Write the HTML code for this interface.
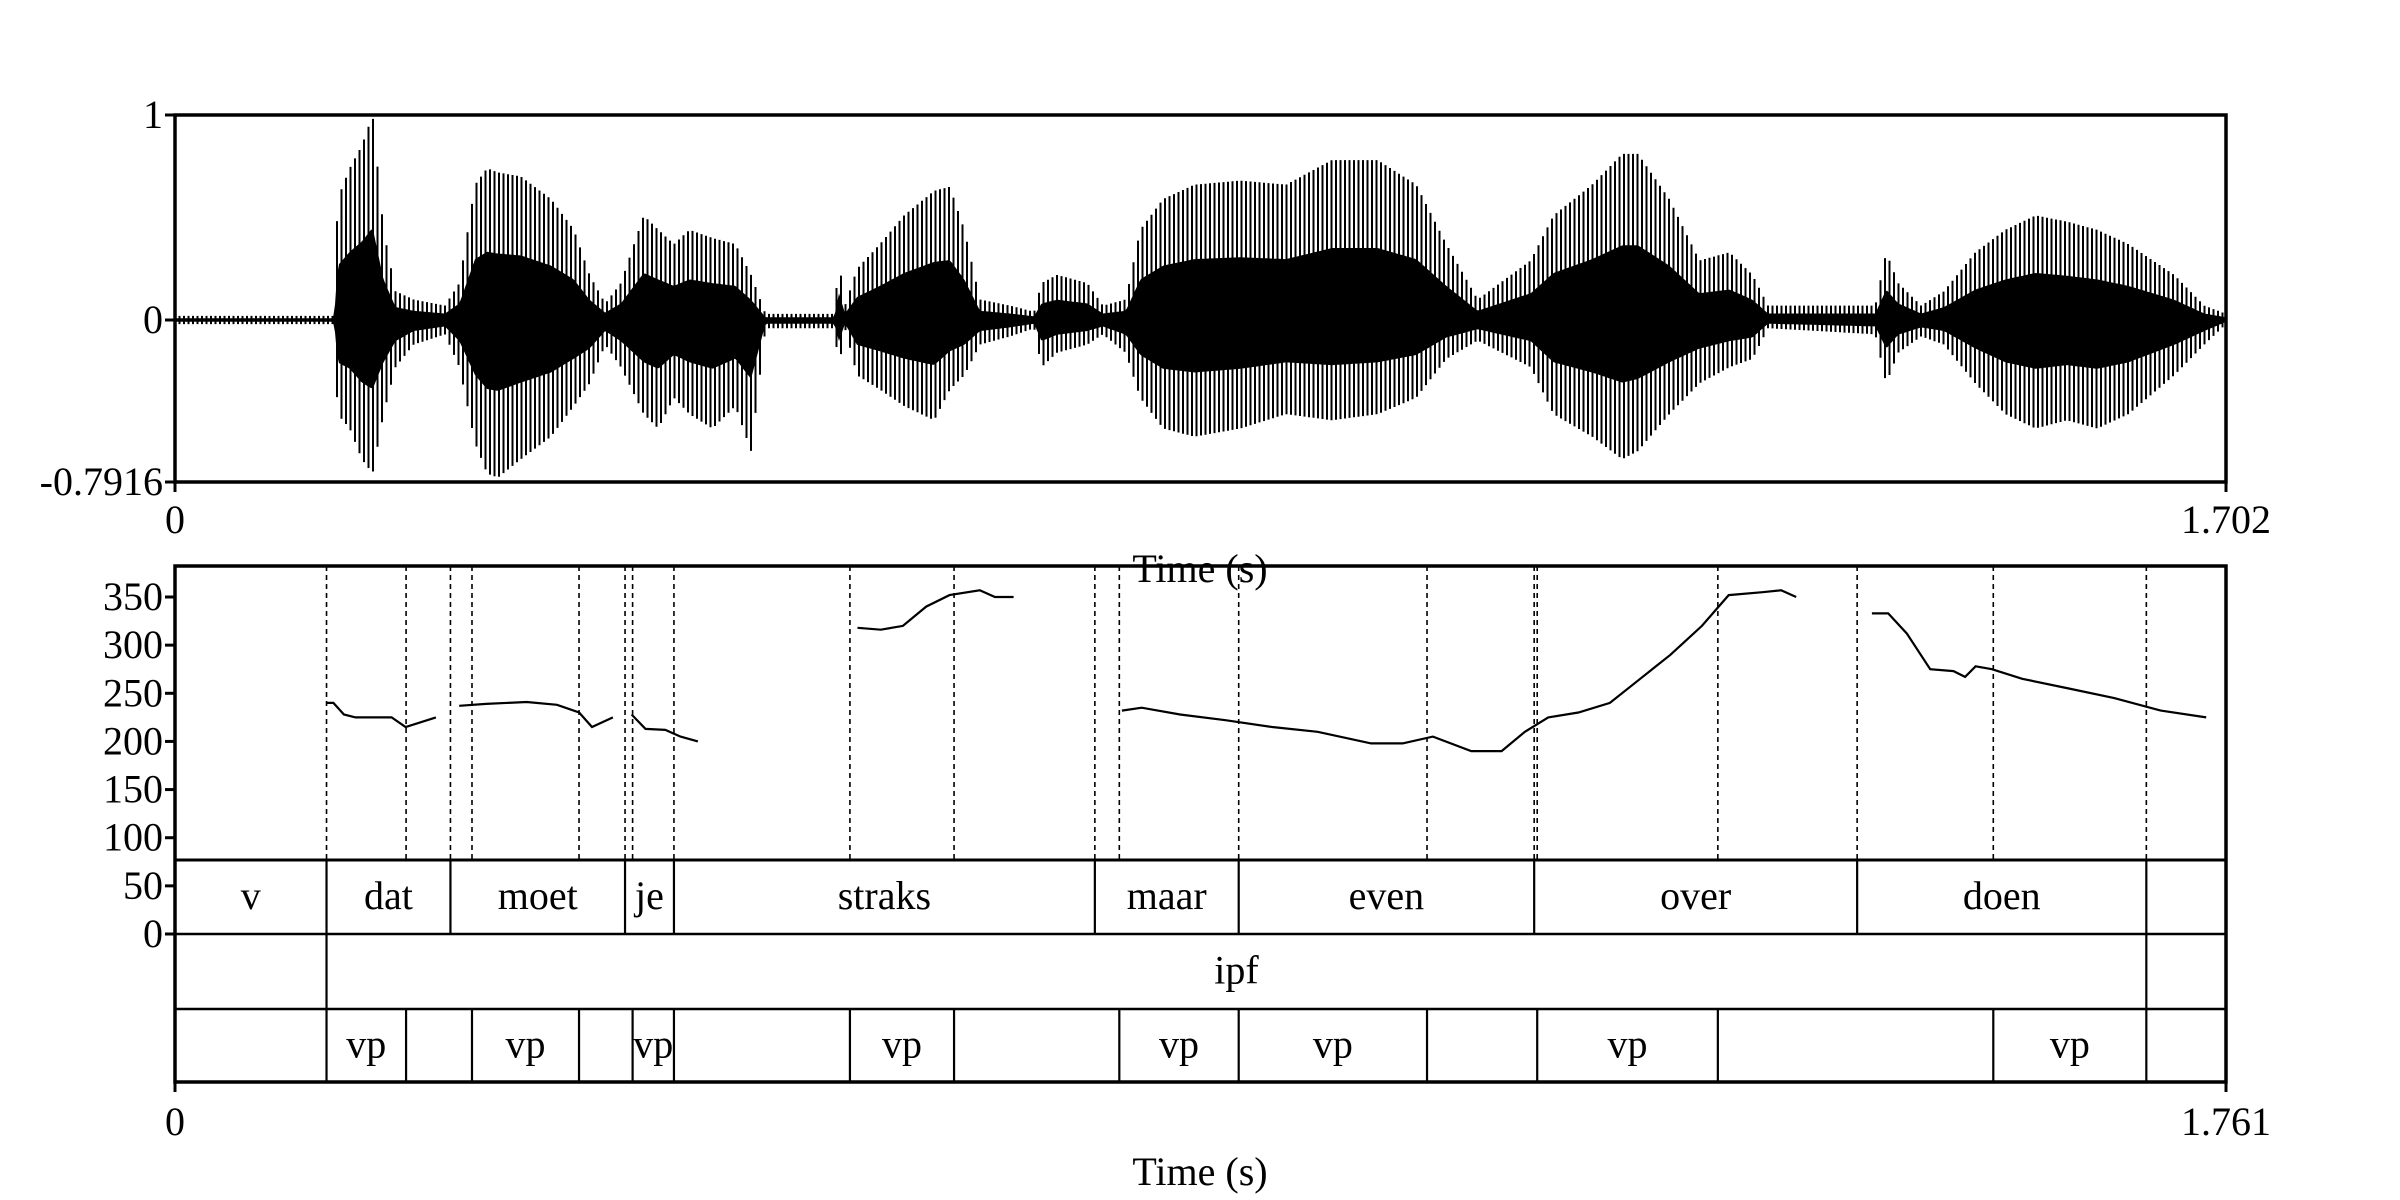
<!DOCTYPE html>
<html><head><meta charset="utf-8"><title>Waveform, pitch and TextGrid</title>
<style>
html,body{margin:0;padding:0;background:#fff;}
svg{display:block;font-family:"Liberation Serif",serif;}
text{fill:#000;}
</style></head>
<body>
<svg id="fig" width="2400" height="1200" viewBox="0 0 2400 1200" xmlns="http://www.w3.org/2000/svg">
  <g id="wave"></g>
  <g id="pitch"></g>
</svg>
<script>
// ---------- Waveform envelope data ----------
const waveTimes = [0,0.132,0.135,0.145,0.155,0.164,0.173,0.183,0.198,0.224,0.236,0.249,0.259,0.268,0.287,0.312,0.331,0.344,0.357,0.370,0.389,0.401,0.414,0.427,0.446,0.465,0.478,0.490,0.547,0.551,0.556,0.566,0.585,0.605,0.630,0.643,0.655,0.668,0.693,0.713,0.719,0.732,0.757,0.770,0.789,0.801,0.820,0.846,0.884,0.922,0.960,0.998,1.030,1.055,1.081,1.125,1.144,1.176,1.201,1.214,1.240,1.265,1.290,1.309,1.322,1.411,1.420,1.430,1.449,1.468,1.494,1.519,1.544,1.570,1.595,1.621,1.659,1.684,1.702];
const waveMax = [0.02,0.02,0.59,0.74,0.85,1.0,0.44,0.14,0.10,0.07,0.18,0.66,0.74,0.72,0.70,0.59,0.44,0.22,0.08,0.18,0.51,0.44,0.37,0.44,0.40,0.37,0.22,0.03,0.03,0.29,0.07,0.25,0.37,0.51,0.63,0.65,0.44,0.10,0.07,0.04,0.18,0.22,0.18,0.07,0.10,0.44,0.59,0.66,0.68,0.66,0.78,0.78,0.66,0.37,0.10,0.29,0.51,0.66,0.81,0.81,0.59,0.29,0.33,0.22,0.07,0.07,0.33,0.18,0.07,0.14,0.33,0.44,0.51,0.48,0.44,0.37,0.22,0.07,0.03];
const waveMin = [-0.02,-0.02,-0.46,-0.53,-0.68,-0.75,-0.46,-0.23,-0.12,-0.07,-0.23,-0.60,-0.75,-0.77,-0.68,-0.57,-0.42,-0.31,-0.12,-0.23,-0.46,-0.53,-0.38,-0.46,-0.53,-0.42,-0.64,-0.04,-0.04,-0.23,-0.04,-0.27,-0.34,-0.42,-0.49,-0.34,-0.27,-0.12,-0.08,-0.04,-0.23,-0.16,-0.12,-0.07,-0.16,-0.38,-0.53,-0.57,-0.53,-0.46,-0.49,-0.46,-0.38,-0.19,-0.10,-0.23,-0.46,-0.57,-0.68,-0.64,-0.46,-0.31,-0.23,-0.19,-0.04,-0.07,-0.31,-0.16,-0.08,-0.12,-0.31,-0.46,-0.53,-0.49,-0.53,-0.46,-0.27,-0.12,-0.02];
const waveYTicks = [1, 0, -0.7916];
const waveYTickLabels = ["1","0","-0.7916"];
const waveXLabels = ["0","1.702"];

// ---------- Pitch data ----------
const pitchSegT = [
 [0.130,0.136,0.145,0.155,0.186,0.198,0.224],
 [0.244,0.267,0.302,0.328,0.347,0.358,0.376],
 [0.392,0.404,0.421,0.434,0.449],
 [0.586,0.606,0.625,0.645,0.665,0.691,0.704,0.720],
 [0.813,0.830,0.863,0.902,0.942,0.981,1.027,1.054,1.080,1.113,1.139,1.159,1.179,1.205,1.232,1.258,1.284,1.311,1.334,1.363,1.379,1.392],
 [1.457,1.471,1.487,1.507,1.527,1.537,1.546,1.560,1.586,1.626,1.665,1.705,1.744]
];
const pitchSegHz = [
 [240,240,228,225,225,215,225],
 [237,239,241,238,230,215,225],
 [228,213,212,205,200],
 [318,316,320,340,352,357,350,350],
 [232,235,228,222,215,210,198,198,205,190,190,210,225,230,240,265,290,320,352,355,357,350],
 [333,333,312,275,273,267,278,275,265,255,245,232,225]
];
const pitchTicks = [0,50,100,150,200,250,300,350];
const pitchXLabels = ["0","1.761"];

// ---------- TextGrid data ----------
const wordBounds = [0,0.1301,0.2365,0.3864,0.4284,0.7898,0.9133,1.1670,1.4443,1.6926,1.761];
const wordLabels = ["v","dat","moet","je","straks","maar","even","over","doen",""];
const phraseBounds = [0,0.1301,1.6926,1.761];
const phraseLabels = ["","ipf",""];
const vpBounds = [0,0.1301,0.1984,0.2550,0.3469,0.3929,0.4284,0.5795,0.6689,0.8108,0.9133,1.0750,1.1696,1.3247,1.5612,1.6926,1.761];
const vpLabels = ["","vp","","vp","","vp","","vp","","vp","vp","","vp","","vp",""];
const dashedTimes = [0.1301,0.1984,0.2365,0.2550,0.3469,0.3864,0.3929,0.4284,0.5795,0.6689,0.7898,0.8108,0.9133,1.0750,1.1670,1.1696,1.3247,1.4443,1.5612,1.6926];

const NS = "http://www.w3.org/2000/svg";
function mk(tag, attrs, parent){ const e=document.createElementNS(NS,tag); for(const k in attrs) e.setAttribute(k,attrs[k]); parent.appendChild(e); return e; }

const FS = 40;
const L=175, R=2226;
const wTop=115, wZero=320, wBot=482;
const wx = t => L + t/1.702*(R-L);
const wy = a => a>=0 ? wZero - a*(wZero-wTop) : wZero + (-a)/0.7916*(wBot-wZero);
const px = t => L + t/1.761*(R-L);
const pTop=566, pZero=934;
const py = hz => pZero - hz*(337/350);
const tierY = [860,934,1009,1082];

// ---------- Waveform ----------
const wg = document.getElementById('wave');
function interp(arr, t){
  for(let i=0;i<waveTimes.length-1;i++){
    if(t>=waveTimes[i] && t<=waveTimes[i+1]){
      const f=(t-waveTimes[i])/(waveTimes[i+1]-waveTimes[i]||1);
      return arr[i]+(arr[i+1]-arr[i])*f;
    }
  }
  return arr[arr.length-1];
}
let up=[],dn=[];
for(let x=L;x<=R;x+=2){
  const t=(x-L)/(R-L)*1.702;
  up.push(x+','+wy(interp(waveMax,t)*0.45).toFixed(1));
  dn.unshift(x+','+wy(interp(waveMin,t)*0.45).toFixed(1));
}
const core = mk('polygon',{points:up.concat(dn).join(' '),fill:'#000'},wg);


let d='';
for(let x=L;x<=R;x+=4.5){
  const t=(x-L)/(R-L)*1.702;
  d+='M'+x.toFixed(1)+' '+wy(interp(waveMax,t)).toFixed(1)+'V'+wy(interp(waveMin,t)).toFixed(1);
}
const sp = mk('path',{d:d,stroke:'#000','stroke-width':2,fill:'none'},wg);


const wf = mk('rect',{x:L,y:wTop,width:R-L,height:wBot-wTop,fill:'none',stroke:'#000','stroke-width':3.5},wg);


waveYTicks.forEach((v,i)=>{
  const y=wy(v);
  const tk=mk('line',{x1:L-10,x2:L,y1:y,y2:y,stroke:'#000','stroke-width':3},wg);
  
  
  const tx=mk('text',{x:L-12,y:y+13,'text-anchor':'end','font-size':FS},wg);
  tx.textContent=waveYTickLabels[i];
  
  
});
mk('line',{x1:L,x2:L,y1:wBot,y2:wBot+10,stroke:'#000','stroke-width':3},wg);
mk('line',{x1:R,x2:R,y1:wBot,y2:wBot+10,stroke:'#000','stroke-width':3},wg);
[[L,waveXLabels[0]],[R,waveXLabels[1]]].forEach(([x,s])=>{
  const tx=mk('text',{x:x,y:533,'text-anchor':'middle','font-size':FS},wg);
  tx.textContent=s;
  
  
});
const wt=mk('text',{x:1200,y:582,'text-anchor':'middle','font-size':FS},wg);
wt.textContent='Time (s)';



// ---------- Pitch + TextGrid ----------
const pg = document.getElementById('pitch');
dashedTimes.forEach(t=>{
  const ln=mk('line',{x1:px(t),x2:px(t),y1:pTop,y2:tierY[0],stroke:'#000','stroke-width':1.6,'stroke-dasharray':'5,4'},pg);
  
  
});
pitchSegT.forEach((ts,si)=>{
  const pts=ts.map((t,i)=>px(t).toFixed(1)+','+py(pitchSegHz[si][i]).toFixed(1)).join(' ');
  const pl=mk('polyline',{points:pts,fill:'none',stroke:'#000','stroke-width':2.2},pg);
  
  
});
const pf=mk('rect',{x:L,y:pTop,width:R-L,height:tierY[3]-pTop,fill:'none',stroke:'#000','stroke-width':3.5},pg);


for(let i=0;i<3;i++){
  const hl=mk('line',{x1:L,x2:R,y1:tierY[i],y2:tierY[i],stroke:'#000','stroke-width':i==0?3:2.4},pg);
  
  
}
function tier(bounds,labels,y0,y1,name){
  for(let i=1;i<bounds.length-1;i++){
    const vl=mk('line',{x1:px(bounds[i]),x2:px(bounds[i]),y1:y0,y2:y1,stroke:'#000','stroke-width':2.2},pg);
    
    
  }
  labels.forEach((s,i)=>{
    if(!s) return;
    const tx=mk('text',{x:(px(bounds[i])+px(bounds[i+1]))/2,y:(y0+y1)/2+12,'text-anchor':'middle','font-size':FS},pg);
    tx.textContent=s;
    
    
  });
}
tier(wordBounds,wordLabels,tierY[0],tierY[1],'word');
tier(phraseBounds,phraseLabels,tierY[1],tierY[2],'phrase');
tier(vpBounds,vpLabels,tierY[2],tierY[3],'vp');
pitchTicks.forEach(v=>{
  const y=py(v);
  const tk=mk('line',{x1:L-10,x2:L,y1:y,y2:y,stroke:'#000','stroke-width':3},pg);
  
  
  const tx=mk('text',{x:L-12,y:y+13,'text-anchor':'end','font-size':FS},pg);
  tx.textContent=String(v);
  
  
});
mk('line',{x1:L,x2:L,y1:tierY[3],y2:tierY[3]+10,stroke:'#000','stroke-width':3},pg);
mk('line',{x1:R,x2:R,y1:tierY[3],y2:tierY[3]+10,stroke:'#000','stroke-width':3},pg);
[[L,pitchXLabels[0]],[R,pitchXLabels[1]]].forEach(([x,s])=>{
  const tx=mk('text',{x:x,y:1135,'text-anchor':'middle','font-size':FS},pg);
  tx.textContent=s;
  
  
});
const pt=mk('text',{x:1200,y:1185,'text-anchor':'middle','font-size':FS},pg);
pt.textContent='Time (s)';


</script>
</body></html>
